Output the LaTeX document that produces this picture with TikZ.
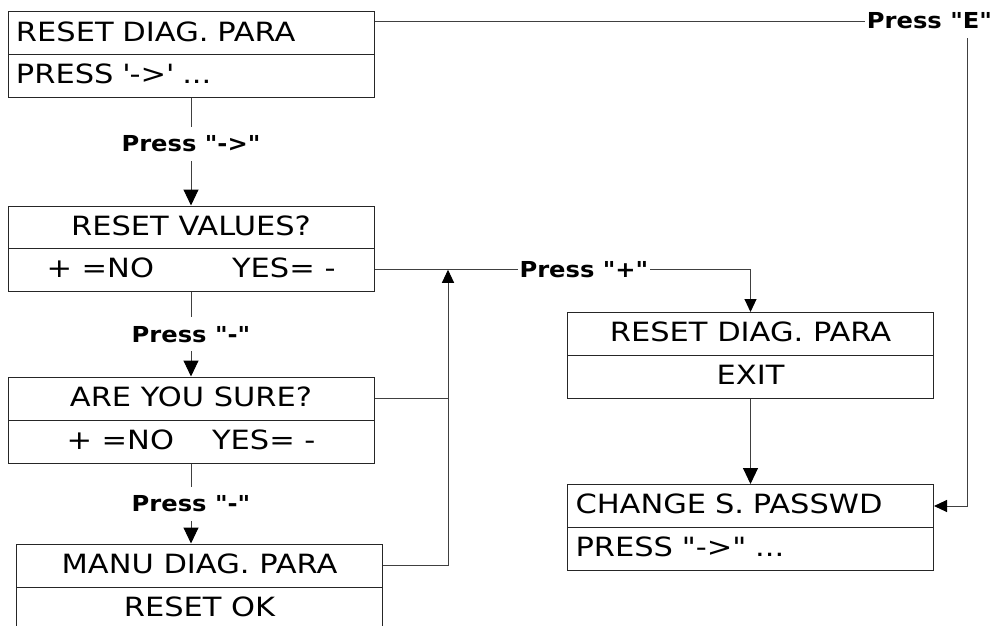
\documentclass[tikz,border=0pt]{standalone}
\usepackage{fontspec}
\newfontfamily\boxfont{DejaVu Sans}[FakeStretch=1.15]
\newfontfamily\labfont{DejaVu Sans}[FakeStretch=1.1]
\usetikzlibrary{arrows.meta}
\tikzset{
  cellbox/.style={draw=black!85, line width=1pt, minimum width=366pt, minimum height=43pt,
    inner xsep=0pt, inner ysep=0pt, text height=19.3pt, text depth=3.5pt,
    font=\boxfont\fontsize{26.5}{30}\selectfont},
  cellboxL/.style={cellbox, inner xsep=8pt, text width=350pt, align=left},
  presslab/.style={fill=white, inner xsep=2pt, inner ysep=9pt, text height=16pt, text depth=0pt,
    font=\labfont\bfseries\fontsize{22}{26}\selectfont},
  conn/.style={draw=black!75, line width=1pt},
  bigarrow/.style={-{Triangle[width=15pt,length=16pt,black]}},
  smallarrow/.style={-{Triangle[width=12pt,length=13pt,black]}},
}
\begin{document}
\begin{tikzpicture}[x=1pt,y=-1pt]
\useasboundingbox (0,0) rectangle (993,626);
\clip (0,0) rectangle (993,626);
% box 1
\node[cellboxL, minimum height=42.5pt] (b1t) at (191,33.25) {RESET DIAG. PARA};
\node[cellboxL, minimum height=42.5pt] (b1b) at (191,75.75) {PRESS \textquotesingle->\textquotesingle\ ...};
% box 2
\node[cellbox, minimum height=42.5pt] (b2t) at (191,227.25) {RESET VALUES?};
\node[cellbox, minimum height=42.5pt] (b2b) at (191,269.75) {+ =NO\hspace{78pt}YES= -\hspace{10pt}};
% box 3
\node[cellbox] (b3t) at (191,398.5) {ARE YOU SURE?};
\node[cellbox] (b3b) at (191,441.5) {+ =NO\hspace{38pt}YES= -\hspace{11pt}};
% box 4
\node[cellbox] (b4t) at (199.5,565.5) {MANU DIAG. PARA};
\node[cellbox] (b4b) at (199.5,608.5) {RESET OK};
% box 5
\node[cellbox] (b5t) at (750.5,334) {RESET DIAG. PARA};
\node[cellbox] (b5b) at (750.5,377) {EXIT};
% box 6
\node[cellboxL] (b6t) at (750.5,506) {CHANGE S. PASSWD};
\node[cellboxL] (b6b) at (750.5,549) {PRESS "->" ...};
% helper coordinates
\coordinate (eturn) at (967,22);
\coordinate (vx) at (448,0);
% connectors
\draw[conn,bigarrow] (b1b.south) -- node[presslab,pos=0.43] {Press "->"} (b2t.north);
\draw[conn,bigarrow] (b2b.south) -- node[presslab] {Press "-"} (b3t.north);
\draw[conn,bigarrow] (b3b.south) -- node[presslab] {Press "-"} (b3b.south |- b4t.north);
\draw[conn,smallarrow] (b1t.east |- eturn) -- (eturn) -- (eturn |- b6t.east) -- (b6t.east);
\node[presslab] (plE) at (929.5,21) {Press "E"};
\draw[conn,smallarrow] (b2b.east) -- node[presslab,pos=0.557] {Press "+"} (b5t.north |- b2b.east) -- (b5t.north);
\draw[conn] (b3t.east) -- (b3t.east -| vx);
\draw[conn,smallarrow] (b4t.east) -- (b4t.east -| vx) -- (vx |- b2b.east);
\draw[conn,bigarrow] (b5b.south) -- (b6t.north);
\end{tikzpicture}
\end{document}
